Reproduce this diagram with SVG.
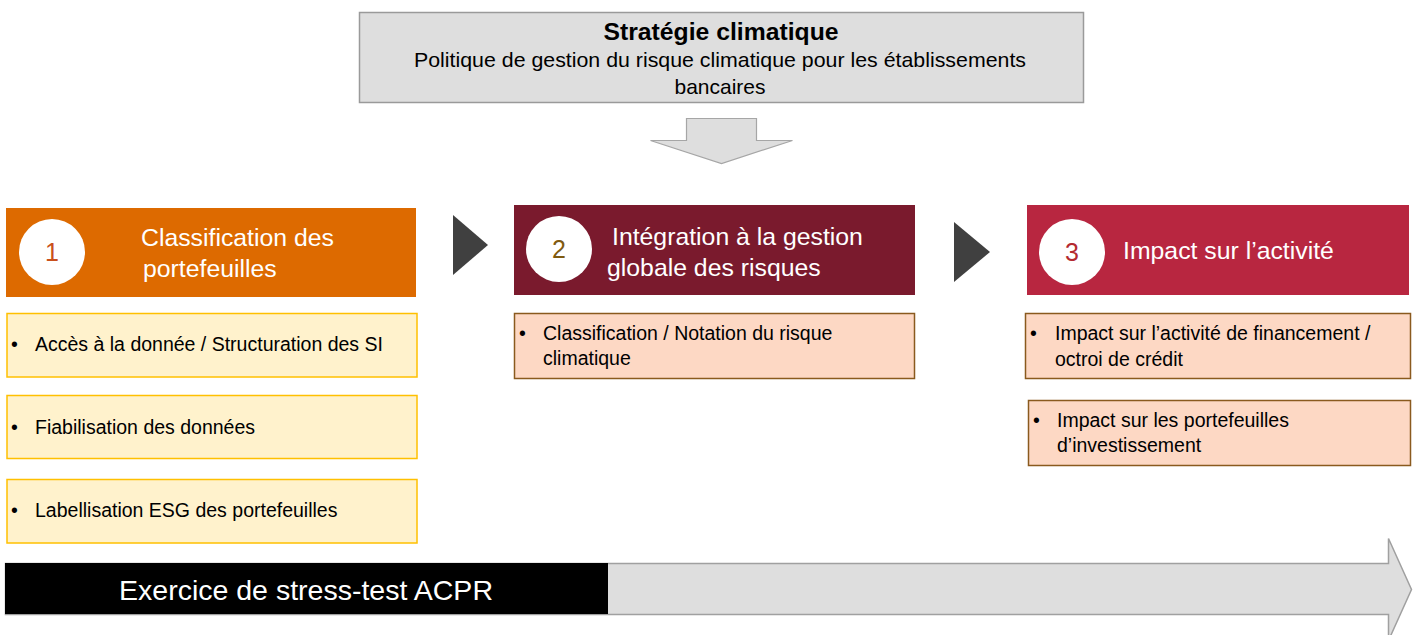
<svg xmlns="http://www.w3.org/2000/svg" width="1416" height="635" viewBox="0 0 1416 635">
<style>
text{font-family:"Liberation Sans",Arial,sans-serif}
.hdr{fill:#fff;font-size:24.8px}
.num{font-size:25px;text-anchor:middle}
.item{fill:#000;font-size:19.5px}
.yel{fill:#fff2cc;stroke:#ffc000;stroke-width:1.5}
.pch{fill:#fdd8c4;stroke:#8a5a1e;stroke-width:1.5}
.tri{fill:#404040}
</style>
<rect width="1416" height="635" fill="#fff"/>
<g id="strategie">
<rect x="359.500" y="12.500" width="724" height="90" fill="#dedede" stroke="#9a9a9a" stroke-width="1.500"/>
<text x="721" y="40" text-anchor="middle" font-size="23" font-weight="bold" fill="#000" textLength="235" lengthAdjust="spacingAndGlyphs">Stratégie climatique</text>
<text x="720" y="67" text-anchor="middle" font-size="21" fill="#000" textLength="612" lengthAdjust="spacingAndGlyphs">Politique de gestion du risque climatique pour les établissements</text>
<text x="720" y="94" text-anchor="middle" font-size="21" fill="#000">bancaires</text>
</g>
<g id="connectors">
<path d="M686.500,118.500 H756.500 V140.500 H792.500 L721.500,163.500 L650.500,140.500 H686.500 Z" fill="#dedede" stroke="#a6a6a6" stroke-width="1.200"/>
<path class="tri" d="M453,215 L488,245 L453,275 Z"/>
<path class="tri" d="M954,222 L990,252 L954,282 Z"/>
</g>
<g id="step1">
<rect x="6" y="208" width="410" height="89" fill="#dd6a00"/>
<circle cx="52" cy="252" r="33" fill="#fff"/>
<text class="num" x="52" y="261" fill="#c9501c">1</text>
<text class="hdr" x="141" y="246">Classification des</text>
<text class="hdr" x="143" y="277">portefeuilles</text>
</g>
<g id="step1-item1">
<rect class="yel" x="7" y="313.500" width="410" height="63.500"/>
<text class="item" x="11" y="351">•</text>
<text class="item" x="35" y="351">Accès à la donnée / Structuration des SI</text>
</g>
<g id="step1-item2">
<rect class="yel" x="7" y="395.500" width="410" height="63"/>
<text class="item" x="11" y="434">•</text>
<text class="item" x="35" y="434">Fiabilisation des données</text>
</g>
<g id="step1-item3">
<rect class="yel" x="7" y="479.500" width="410" height="63.500"/>
<text class="item" x="11" y="517">•</text>
<text class="item" x="35" y="517">Labellisation ESG des portefeuilles</text>
</g>
<g id="step2">
<rect x="514" y="205" width="401" height="90" fill="#7a1a2d"/>
<circle cx="559" cy="249" r="33" fill="#fff"/>
<text class="num" x="559" y="258" fill="#7f5a10">2</text>
<text class="hdr" x="612" y="245">Intégration à la gestion</text>
<text class="hdr" x="607" y="276">globale des risques</text>
</g>
<g id="step2-item1">
<rect class="pch" x="514.500" y="313.500" width="400" height="65"/>
<text class="item" x="519" y="340">•</text>
<text class="item" x="543" y="340">Classification / Notation du risque</text>
<text class="item" x="543" y="365">climatique</text>
</g>
<g id="step3">
<rect x="1027" y="205" width="382" height="90" fill="#b82640"/>
<circle cx="1072" cy="252" r="33" fill="#fff"/>
<text class="num" x="1072" y="261" fill="#b42a30">3</text>
<text class="hdr" x="1123" y="259">Impact sur l’activité</text>
</g>
<g id="step3-item1">
<rect class="pch" x="1025.500" y="313.500" width="385" height="65"/>
<text class="item" x="1030" y="340">•</text>
<text class="item" x="1055" y="340">Impact sur l’activité de financement /</text>
<text class="item" x="1055" y="366">octroi de crédit</text>
</g>
<g id="step3-item2">
<rect class="pch" x="1028.500" y="400.500" width="382" height="65"/>
<text class="item" x="1033" y="427">•</text>
<text class="item" x="1057" y="427">Impact sur les portefeuilles</text>
<text class="item" x="1057" y="452">d’investissement</text>
</g>
<g id="stress-test">
<path d="M5.500,563.500 H1388.500 V538.500 L1411.500,589.500 L1388.500,640.500 V614.500 H5.500 Z" fill="#dedede" stroke="#a0a0a0" stroke-width="1.500"/>
<rect x="5" y="563" width="603" height="51" fill="#000"/>
<text x="119" y="600" font-size="28.5" fill="#fff" textLength="374" lengthAdjust="spacingAndGlyphs">Exercice de stress-test ACPR</text>
</g>
</svg>
